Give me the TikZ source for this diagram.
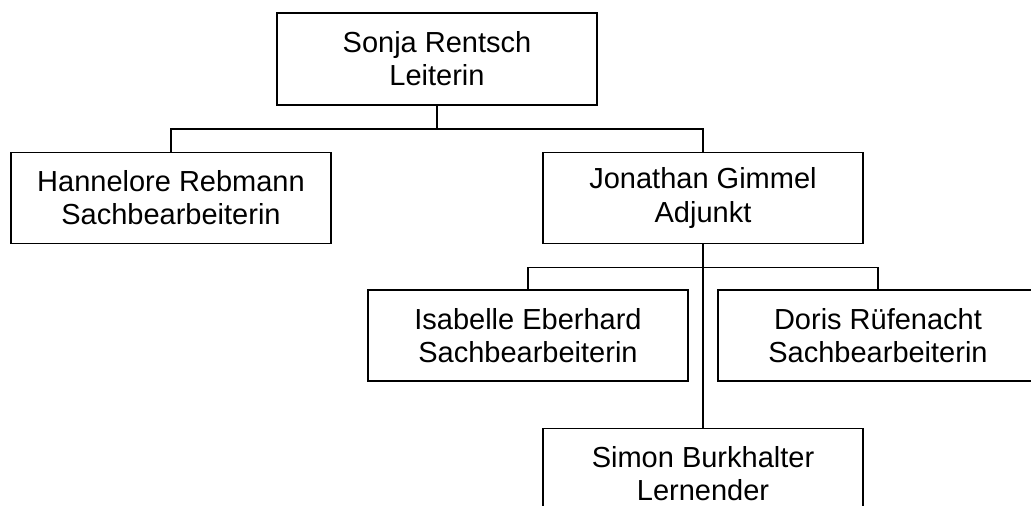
\documentclass[tikz,border=0pt]{standalone}
\usepackage{fontspec}
\setmainfont{Liberation Sans}
\usetikzlibrary{positioning}

\begin{document}
\begin{tikzpicture}[node distance = 46pt, auto]
\tikzstyle{block} = [rectangle, draw, line width=1.5pt, fill=white, text = black,
    minimum width=320pt, minimum height=91pt, inner sep=0pt, align=center,
    font=\fontsize{29}{33}\selectfont]
\tikzstyle{line} = [draw, line width=1.5pt]
    \useasboundingbox (0,0) rectangle (1031pt,-506pt);
    \clip (0,0) rectangle (1031pt,-506pt);
    % Place nodes
    \node [block, minimum height=92pt] (leiterin) at (437pt,-59pt) {Sonja Rentsch\\Leiterin};
    \node [block, below=of leiterin, xshift=-266pt] (rebmann) {Hannelore Rebmann\\Sachbearbeiterin};
    \node [block, below=of leiterin, xshift=266pt] (adjunkt) {Jonathan Gimmel\\Adjunkt};
    \node [block, below=45pt of adjunkt, xshift=-175pt] (eberhard) {Isabelle Eberhard\\Sachbearbeiterin};
    \node [block, below=45pt of adjunkt, xshift=175pt] (ruefenacht) {Doris Rüfenacht\\Sachbearbeiterin};
    \node [block, below=of eberhard, xshift=175pt] (lernender) {Simon Burkhalter\\Lernender};

%paths
    \path [line] (leiterin.south) -- ++(0,-23pt) coordinate (bus1);
    \path [line] (rebmann.north) |- (bus1) -| (adjunkt.north);
    \path [line] (adjunkt.south) -- ++(0,-23pt) coordinate (bus2);
    \path [line] (bus2) -- (lernender.north);
    \path [line] (eberhard.north) |- (bus2) -| (ruefenacht.north);

\end{tikzpicture}
\end{document}
